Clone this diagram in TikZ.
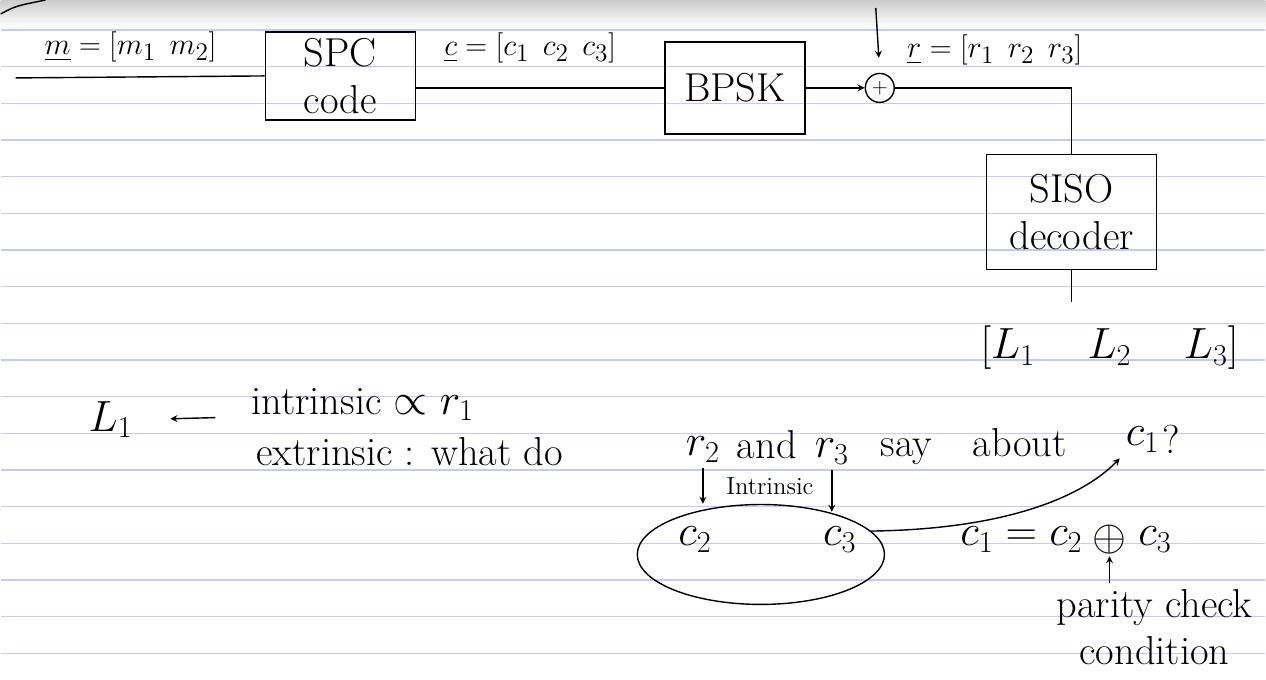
\documentclass[tikz,border=0pt]{standalone}
\usepackage{amssymb}
\usetikzlibrary{shapes.geometric, arrows, positioning, calc}

\begin{document}
\begin{tikzpicture}[
        x=0.02cm, y=-0.02cm,
        every node/.style={font=\fontsize{23}{27}\selectfont},
        block/.style={rectangle, draw, thick, minimum width=3cm, minimum height=1.76cm, align=center},
        adder/.style={circle, draw, thick, minimum size=0.58cm, inner sep=0pt, font=\large},
        group/.style={ellipse, draw, thick, minimum width=4.95cm, minimum height=2cm},
        vec/.style={font=\fontsize{19}{22}\selectfont},
        note/.style={anchor=west},
        small/.style={font=\fontsize{14}{16}\selectfont},
        line/.style={draw, thick},
        arrowline/.style={draw, thick, -stealth},
        rule/.style={draw=blue!22, line width=0.7pt}
    ]
        % Paper
        \fill[white] (0,0) rectangle (1266,680);
        \shade[top color=gray!40, bottom color=white] (0,0) rectangle (1266,28);
        \foreach \k in {0,...,17}
            \draw[rule] (0,{30+36.7*\k}) -- (1266,{30+36.7*\k});
        \useasboundingbox (0,0) rectangle (1266,680);
        \draw[thick] (0,14) .. controls (15,6) .. (45,0);

        % Transmitter chain
        \coordinate (in) at (15,78);
        \node[block] (spc) at (340,76) {SPC\\code};
        \node[block, minimum width=2.8cm, minimum height=1.84cm] (bpsk) at (735,88) {BPSK};
        \node[adder] (add) at (880,88) {$+$};
        \coordinate (noise) at (876,8);

        \node[vec] (mlab) at (130,47) {$\underline{m}=[m_1\;\, m_2]$};
        \node[vec] (clab) at (530,48) {$\underline{c}=[c_1\;\, c_2\;\, c_3]$};
        \node[vec] (rlab) at (995,50) {$\underline{r}=[r_1\;\, r_2\;\, r_3]$};

        \draw[line] (in) -- (spc.west);
        \draw[line] ($(spc.east)+(0,12)$) -- (bpsk.west);
        \draw[arrowline] (bpsk.east) -- (add.west);
        \draw[arrowline, shorten >=0.3cm] (noise) -- (add.north);

        % Receiver
        \node[block, minimum width=3.4cm, minimum height=2.3cm] (siso) at (1072,212) {SISO\\decoder};
        \node (llr) at (1110,348) {$[L_1\quad\; L_2\quad\; L_3]$};

        \draw[line] (add.east) -| (siso.north);
        \draw[line, shorten >=10] (siso.south) -- (siso.south |- llr.north);

        % Intrinsic / extrinsic
        \node[note] (l1) at (82,420) {$L_1$};
        \node[note] (intr) at (245,405) {intrinsic $\propto r_1$};
        \coordinate (arrtail) at (215,418);
        \draw[arrowline, shorten >=18] (arrtail) -- (l1.east);

        \node[note] (extr) at (250,452) {extrinsic : what do};
        \node (r2) at (703,450) {$r_2$};
        \node (and) at (767,445) {and};
        \node (r3) at (832,452) {$r_3$};
        \node[note] (say) at (875,447) {say\quad about};
        \node (c1) at (1143,440) {$c_1$};
        \node (q) at (1172,440) {?};

        % Parity group
        \node[group] (grp) at (761,555) {};
        \node (c2) at (695,540) {$c_2$};
        \node (c3) at (840,540) {$c_3$};
        \node[small] (intlab) at (770,487) {Intrinsic};

        \draw[arrowline] (r2.south) -- (r2.south |- grp.north);
        \draw[arrowline] (r3.south) -- ($(r3.south |- grp.north)+(0,8)$);
        \draw[arrowline] (grp.12) .. controls (1000,530) and (1080,500) .. (c1.south west);

        \node[inner sep=1pt] (xor) at (1110,540) {$\oplus$};
        \node[left=1pt of xor] (eqlhs) {$c_1 = c_2$};
        \node[right=2pt of xor] (c3b) {$c_3$};
        \node[align=center] (cond) at (1155,628) {parity check\\condition};
        \draw[arrowline] (cond.north -| xor) -- (xor.south);

    \end{tikzpicture}
\end{document}
